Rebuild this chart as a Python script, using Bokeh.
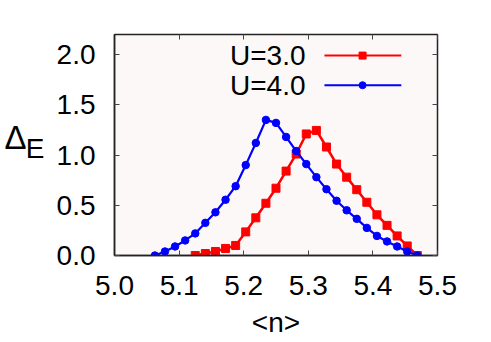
from bokeh.plotting import figure
from bokeh.layouts import row
from bokeh.models import Range1d, LinearAxis, Label, FixedTicker, PrintfTickFormatter
from bokeh.core.properties import value
from bokeh.embed import file_html
from bokeh.resources import INLINE

# data
n_u3 = [5 + k / 64 for k in range(8, 31)]
d_u3 = [0.0, 0.02, 0.04, 0.07, 0.10, 0.235, 0.375, 0.52, 0.67, 0.84, 1.01, 1.21, 1.245,
        1.08, 0.91, 0.78, 0.655, 0.53, 0.405, 0.30, 0.195, 0.095, 0.0]
n_u4 = [5 + k / 64 for k in range(4, 31)]
d_u4 = [0.0, 0.04, 0.09, 0.15, 0.22, 0.325, 0.43, 0.555, 0.69, 0.90, 1.12, 1.35, 1.32,
        1.18, 1.04, 0.91, 0.78, 0.66, 0.545, 0.45, 0.365, 0.275, 0.195, 0.14, 0.09, 0.04, 0.0]
x_ticks = [5.0, 5.1, 5.2, 5.3, 5.4, 5.5]
y_ticks = [0.0, 0.5, 1.0, 1.5, 2.0]
labels = ["U=3.0", "U=4.0"]
y_title = ["Δ", "E"]

FONT = "Liberation Sans"
FS = "28px"
RED = "#ff0000"
BLUE = "#0000ff"

W, H = 491, 342
LW = 50  # width of the strip holding the y-axis title

# strip on the left holding the "Δ_E" title
q = figure(width=LW, height=H, output_backend="svg", toolbar_location=None,
           x_range=Range1d(0, LW), y_range=Range1d(0, H),
           x_axis_location=None, y_axis_location=None,
           min_border=0, outline_line_color=None,
           background_fill_color="white", border_fill_color="white")
q.grid.visible = False
q.text(x=[15], y=[H - 159], text=[y_title[0]], text_align="center", text_baseline="middle",
       text_font=value(FONT), text_font_size="33px", text_color="black")
q.text(x=[34.5], y=[H - 176], text=[y_title[1]], text_align="center", text_baseline="middle",
       text_font=value(FONT), text_font_size=FS, text_color="black")

p = figure(width=W - LW, height=H, output_backend="svg", toolbar_location=None,
           x_range=Range1d(5.0, 5.5), y_range=Range1d(0.0, 2.2),
           min_border_left=114 - LW, min_border_right=54, min_border_top=34, min_border_bottom=87,
           border_fill_color="white")
p.background_fill_color = "#fcf8f8"
p.outline_line_color = "#222222"
p.outline_line_width = 1.5
p.grid.visible = False

for ax in (p.xaxis[0], p.yaxis[0]):
    ax.major_tick_in = 5
    ax.major_tick_out = 0
    ax.minor_tick_in = 0
    ax.minor_tick_out = 0
    ax.axis_line_color = "#222222"
    ax.axis_line_width = 1.5
    ax.major_tick_line_color = "#444444"
    ax.major_label_text_font = FONT
    ax.major_label_text_font_size = FS
    ax.major_label_text_color = "black"
    ax.formatter = PrintfTickFormatter(format="%.1f")
p.xaxis[0].ticker = FixedTicker(ticks=x_ticks)
p.yaxis[0].ticker = FixedTicker(ticks=y_ticks)
p.xaxis[0].major_label_standoff = 20
p.yaxis[0].major_label_standoff = 19
p.xaxis[0].axis_label = "<n>"
p.xaxis[0].axis_label_text_font = FONT
p.xaxis[0].axis_label_text_font_size = FS
p.xaxis[0].axis_label_text_font_style = "normal"
p.xaxis[0].axis_label_text_color = "black"
p.xaxis[0].axis_label_standoff = 9

top = LinearAxis(ticker=FixedTicker(ticks=x_ticks),
                 major_label_overrides={t: "" for t in x_ticks},
                 major_tick_in=5, major_tick_out=0, minor_tick_in=0, minor_tick_out=0,
                 axis_line_color=None, major_tick_line_color="#444444")
right = LinearAxis(ticker=FixedTicker(ticks=y_ticks),
                   major_label_overrides={t: "" for t in y_ticks},
                   major_tick_in=5, major_tick_out=0, minor_tick_in=0, minor_tick_out=0,
                   axis_line_color=None, major_tick_line_color="#444444")
p.add_layout(top, "above")
p.add_layout(right, "right")

p.line(n_u3, d_u3, line_color=RED, line_width=2.5)
p.scatter(n_u3, d_u3, marker="square", size=8, fill_color=RED, line_color=RED)
p.line(n_u4, d_u4, line_color=BLUE, line_width=2.2)
p.scatter(n_u4, d_u4, marker="circle", size=7.5, fill_color=BLUE, line_color=BLUE)

# legend (label left of sample, gnuplot style)
leg_y = [1.99, 1.695]
for lab, yy, col, mk in zip(labels, leg_y, [RED, BLUE], ["square", "circle"]):
    p.add_layout(Label(x=5.2957, y=yy, text=lab, text_align="right", text_baseline="middle",
                       text_font=FONT, text_font_size=FS, text_color="black"))
    p.line([5.325, 5.444], [yy, yy], line_color=col, line_width=2)
    p.scatter([5.384], [yy], marker=mk, size=7, fill_color=col, line_color=col)

layout = row(q, p)
open("out.html", "w").write(file_html(layout, INLINE))
